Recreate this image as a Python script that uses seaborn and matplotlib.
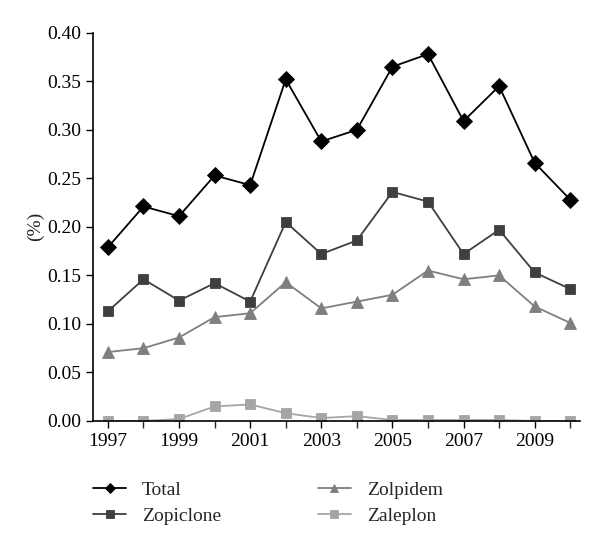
import pandas as pd
import matplotlib
matplotlib.use("Agg")
import matplotlib.pyplot as plt
import seaborn as sns

# === DATA ===
years = list(range(1997, 2011))
total = [0.179, 0.221, 0.211, 0.253, 0.243, 0.352, 0.288, 0.300, 0.365, 0.378, 0.309, 0.345, 0.266, 0.228]
zopiclone = [0.113, 0.146, 0.124, 0.142, 0.123, 0.205, 0.172, 0.186, 0.236, 0.226, 0.172, 0.197, 0.153, 0.136]
zolpidem = [0.071, 0.075, 0.086, 0.107, 0.111, 0.143, 0.116, 0.123, 0.130, 0.155, 0.146, 0.150, 0.118, 0.101]
zaleplon = [0.000, 0.000, 0.002, 0.015, 0.017, 0.008, 0.003, 0.005, 0.001, 0.001, 0.001, 0.001, 0.000, 0.000]

series = ["Total", "Zopiclone", "Zolpidem", "Zaleplon"]
colors = {"Total": "#000000", "Zopiclone": "#3f3f3f", "Zolpidem": "#7f7f7f", "Zaleplon": "#a5a5a5"}
markers = {"Total": "D", "Zopiclone": "s", "Zolpidem": "^", "Zaleplon": "s"}
msizes = {"Total": 8, "Zopiclone": 7.5, "Zolpidem": 8, "Zaleplon": 7.5}

df = pd.DataFrame({
    "Year": years * 4,
    "Value": total + zopiclone + zolpidem + zaleplon,
    "Series": sum([[s] * len(years) for s in series], []),
})

sns.set_style("ticks")
plt.rcParams["font.family"] = ["Liberation Serif", "DejaVu Serif"]

fig = plt.figure(figsize=(6, 5.46), dpi=100)
ax = fig.add_axes([0.155, 0.229, 0.812, 0.711])

for s in series:
    sub = df[df["Series"] == s]
    sns.lineplot(data=sub, x="Year", y="Value", ax=ax, color=colors[s], marker=markers[s],
                 markersize=msizes[s], markeredgewidth=0.6, markeredgecolor=colors[s],
                 linewidth=1.3, label=s)

ax.set_xlim(1996.58, 2010.28)
ax.set_ylim(0, 0.40)
ax.set_xticks(range(1997, 2011), minor=True)
ax.set_xticks(range(1997, 2011, 2))
ax.set_xticklabels([str(y) for y in range(1997, 2011, 2)])
ax.set_yticks([i * 0.05 for i in range(9)])
ax.set_yticklabels([f"{i * 0.05:.2f}" for i in range(9)])
ax.tick_params(axis="both", which="major", labelsize=14, direction="out", length=5, width=1, colors="black")
ax.tick_params(axis="x", which="minor", direction="out", length=5, width=1)
ax.set_xlabel("")
ax.set_ylabel("(%)", fontsize=14)
ax.yaxis.set_label_coords(-0.10, 0.5)
sns.despine(ax=ax)
for sp in ["left", "bottom"]:
    ax.spines[sp].set_color("black")
    ax.spines[sp].set_linewidth(1.2)

# legend below the axes, two columns
handles, labels = ax.get_legend_handles_labels()
ax.get_legend().remove()
fig.legend(handles, labels, ncol=2, loc="upper left", bbox_to_anchor=(0.155, 0.119),
           frameon=False, fontsize=14, handlelength=1.7, columnspacing=5.0,
           labelspacing=0.45, handletextpad=0.8, markerscale=0.7,
           borderpad=0, borderaxespad=0)

plt.savefig("out.png", dpi=100)
